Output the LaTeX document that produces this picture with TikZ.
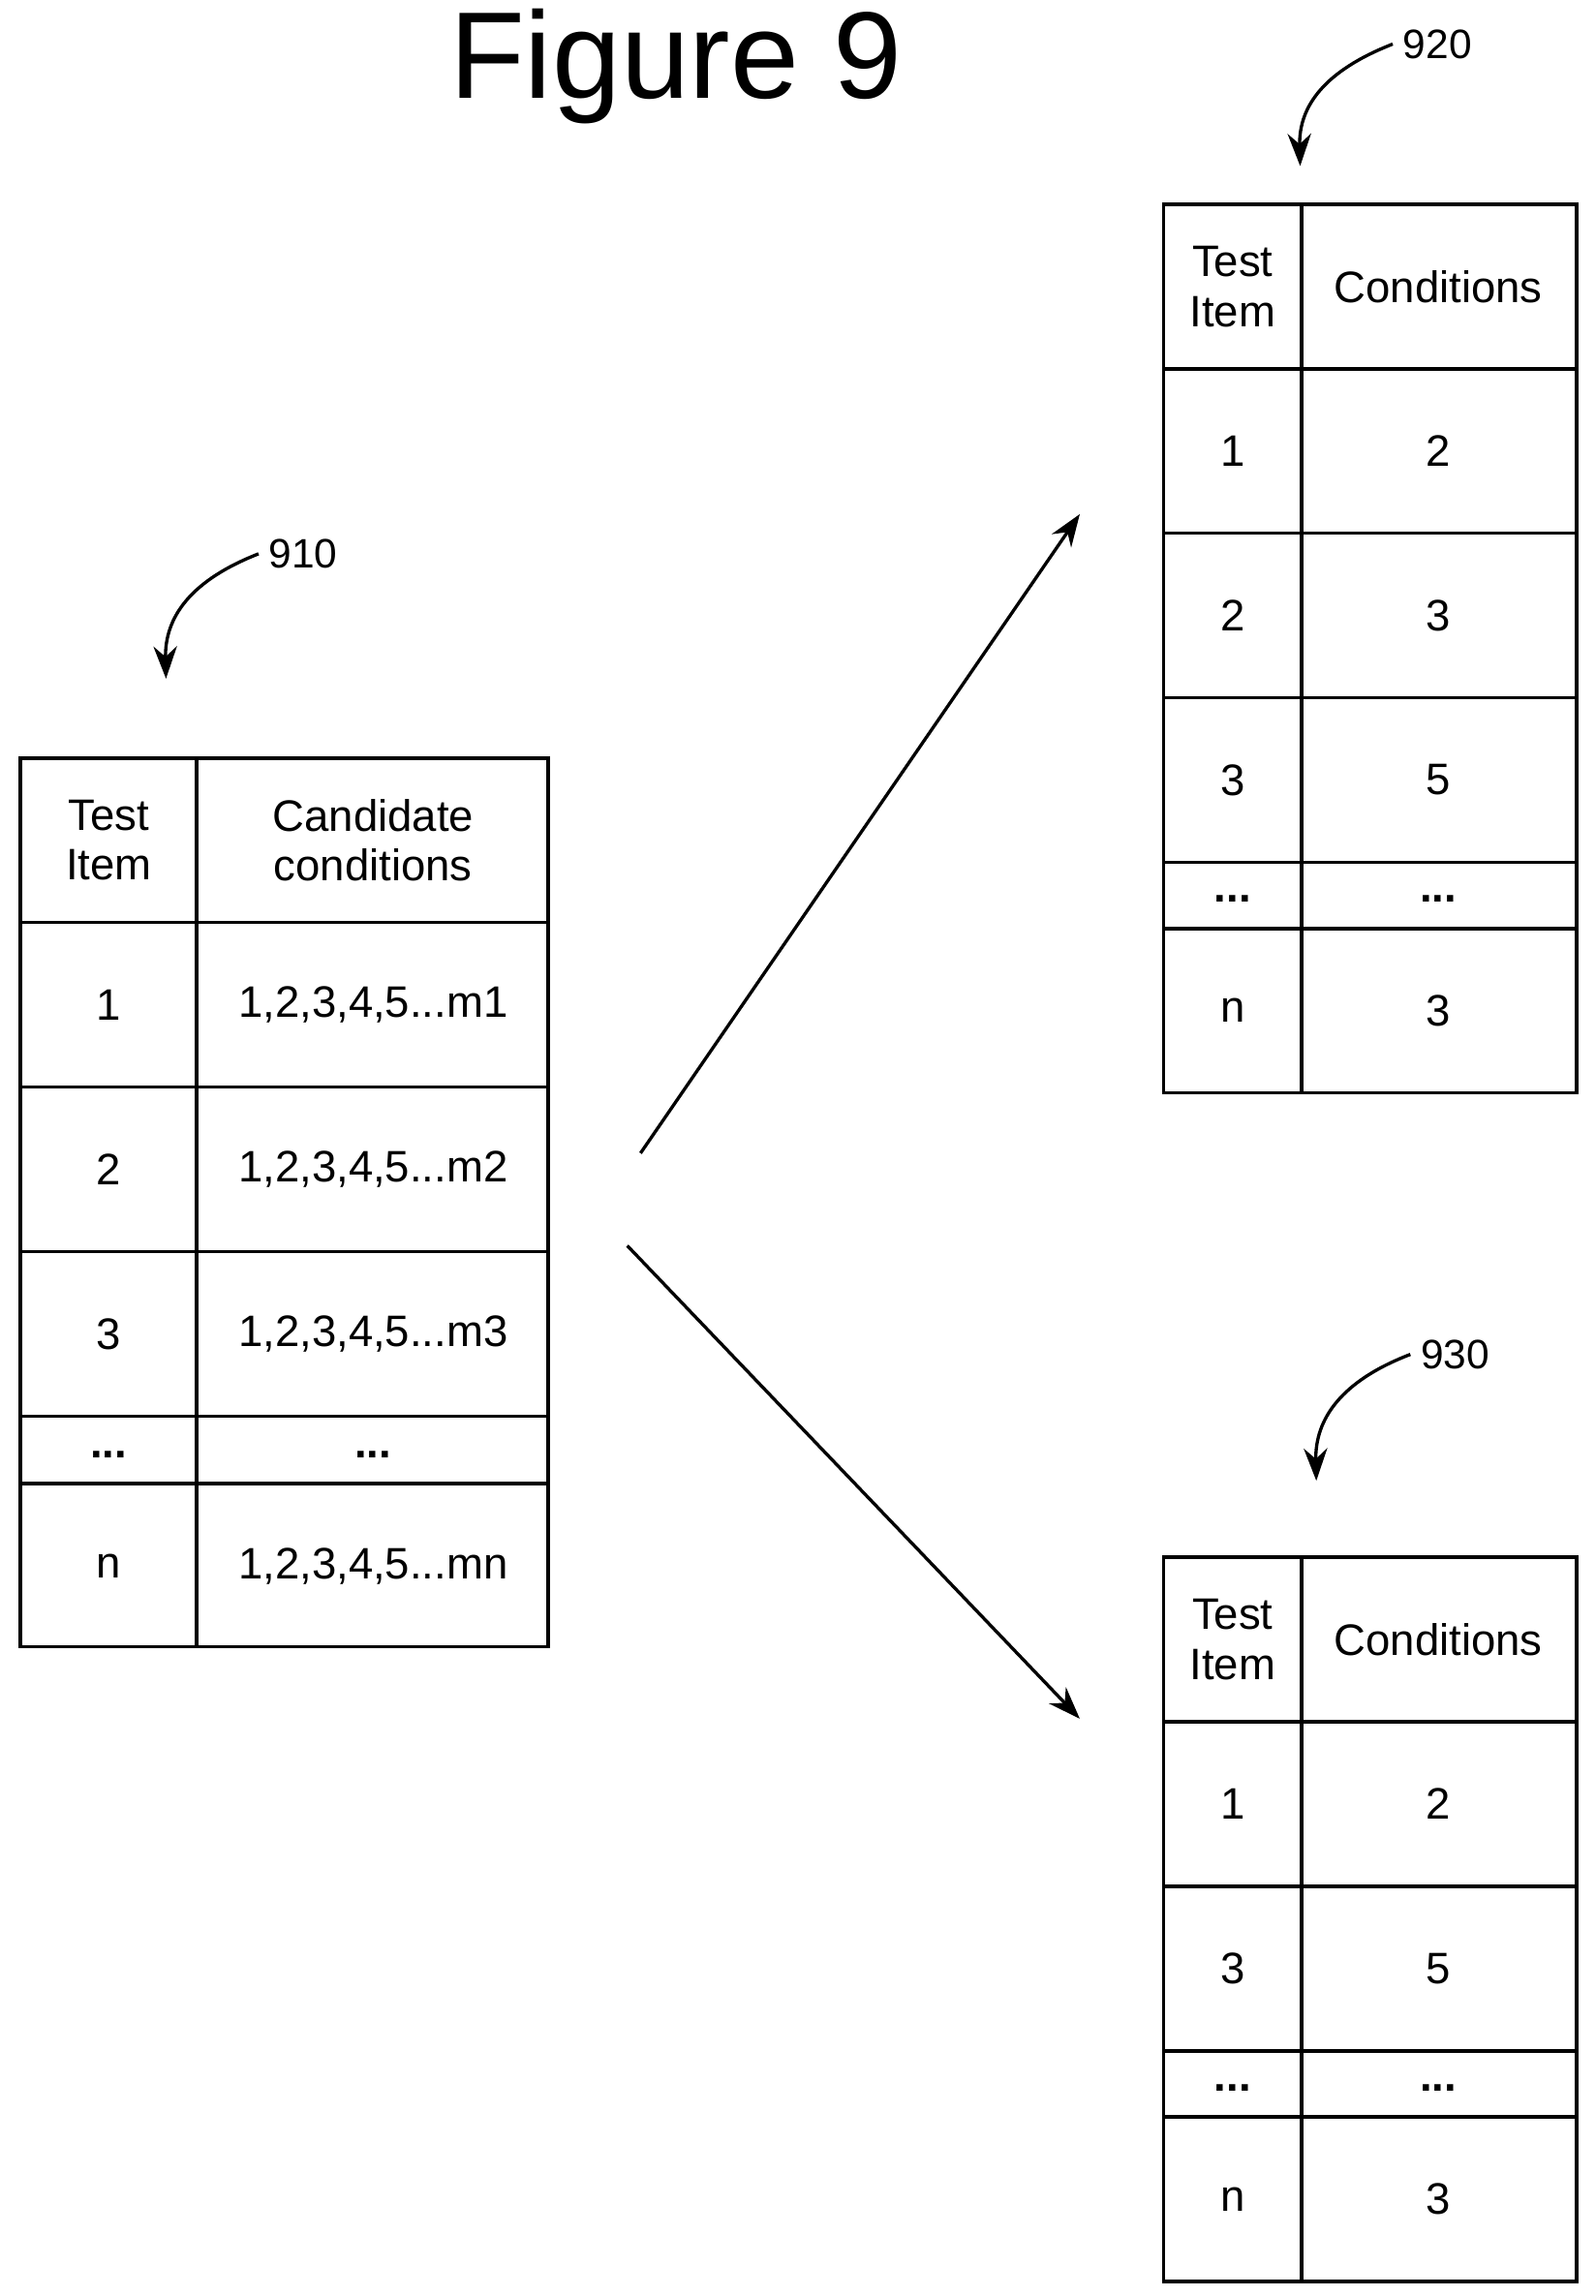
\documentclass[tikz,border=0pt]{standalone}
\usepackage{fontspec}
\setmainfont{Liberation Sans}
\usetikzlibrary{arrows.meta,positioning,calc}
\tikzset{
    grid/.style={line width=1.2pt},
    celltext/.style={font=\fontsize{15}{17}\selectfont,align=center},
    link/.style={-{Stealth[length=11pt,width=8pt]},line width=1.1pt},
    refnum/.style={font=\fontsize{14}{16}\selectfont},
}
\newcommand{\dotsrow}{\textbf{...}}

\begin{document}
\begin{tikzpicture}[x=0.5pt,y=-0.5pt]
\useasboundingbox (0,0) rectangle (1086,1563);

\node[font=\fontsize{42}{46}\selectfont] (title) at (460,45) {Figure 9};

% table 910
\draw[grid] (14,516) rectangle (373,1121);
\draw[grid] (134,516) -- (134,1121);
\foreach \y in {628,740,852,964,1010}
  \draw[grid] (14,\y) -- (373,\y);
\foreach \y/\a/\b in {572/Test\\Item/Candidate\\conditions,
    684/1/{1,2,3,4,5...m1},796/2/{1,2,3,4,5...m2},908/3/{1,2,3,4,5...m3},
    990/\dotsrow/\dotsrow,1066/n/{1,2,3,4,5...mn}}{
  \node[celltext] at (74,\y) {\a};
  \node[celltext] at (254,\y) {\b};
}

% table 920
\draw[grid] (792,139) rectangle (1073,744);
\draw[grid] (886,139) -- (886,744);
\foreach \y in {251,363,475,587,632}
  \draw[grid] (792,\y) -- (1073,\y);
\foreach \y/\a/\b in {195/Test\\Item/Conditions,307/1/2,419/2/3,531/3/5,
    612/\dotsrow/\dotsrow,688/n/3}{
  \node[celltext] at (839,\y) {\a};
  \node[celltext] at (979,\y) {\b};
}

% table 930
\draw[grid] (792,1060) rectangle (1073,1553);
\draw[grid] (886,1060) -- (886,1553);
\foreach \y in {1172,1284,1396,1441}
  \draw[grid] (792,\y) -- (1073,\y);
\foreach \y/\a/\b in {1116/Test\\Item/Conditions,1228/1/2,1340/3/5,
    1421/\dotsrow/\dotsrow,1497/n/3}{
  \node[celltext] at (839,\y) {\a};
  \node[celltext] at (979,\y) {\b};
}

% arrows between tables
\coordinate (up0) at (436,785);
\coordinate (up1) at (735,350);
\coordinate (dn0) at (427,848);
\coordinate (dn1) at (735,1170);
\draw[link] (up0) -- (up1);
\draw[link] (dn0) -- (dn1);

% reference numerals
\node[refnum,anchor=west] (n910) at (176,377) {910};
\node[refnum,anchor=west] (n920) at (948,30) {920};
\node[refnum,anchor=west] (n930) at (960,922) {930};
\coordinate (t910) at (113,462);
\coordinate (t920) at (885,113);
\coordinate (t930) at (896,1008);
\draw[link] (n910.west) .. controls (130,395) and (112,420) .. (t910);
\draw[link] (n920.west) .. controls (902,48) and (884,72) .. (t920);
\draw[link] (n930.west) .. controls (913,940) and (895,966) .. (t930);
\end{tikzpicture}
\end{document}
